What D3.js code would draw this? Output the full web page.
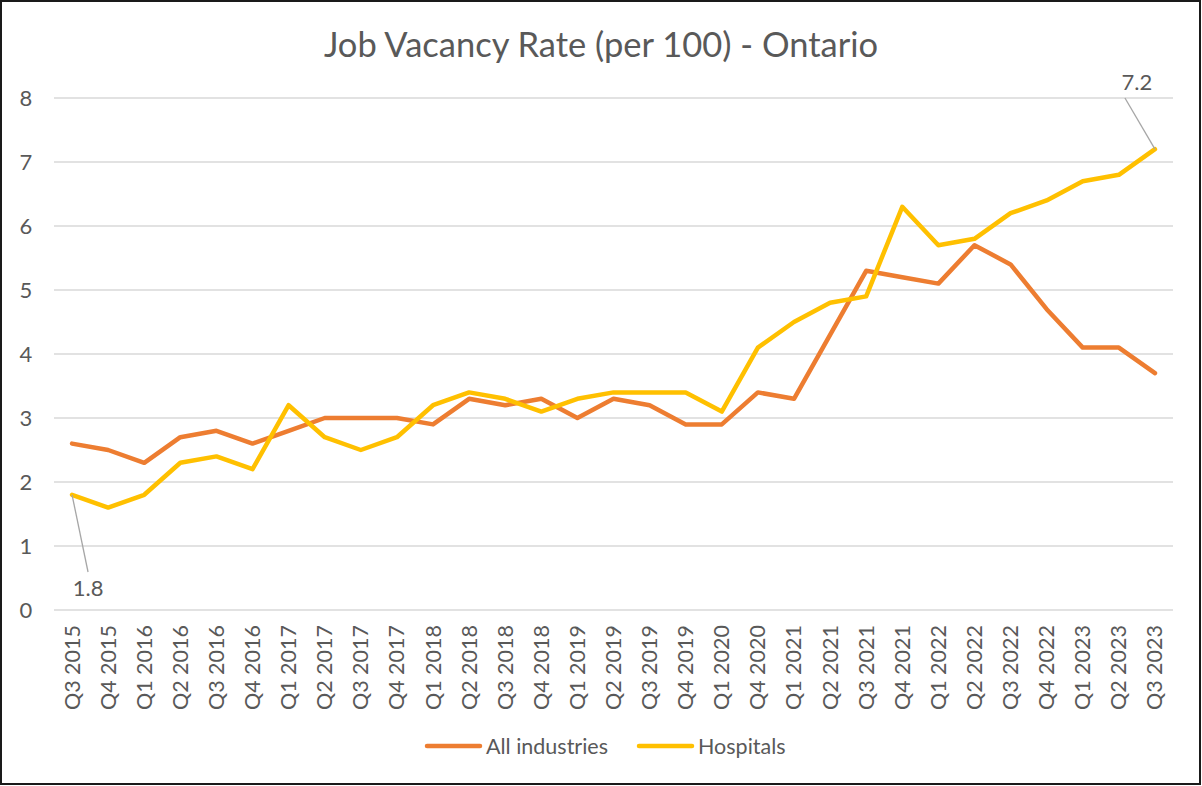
<!DOCTYPE html>
<html>
<head>
<meta charset="utf-8">
<script src="https://cdnjs.cloudflare.com/ajax/libs/d3/7.8.5/d3.min.js"></script>
<style>
	body { margin: 0; background: #fff; }
	svg text { font-family: Lato, "Open Sans", sans-serif; fill: #595959; }
</style>
</head>
<body>
<svg id="chart" width="1202" height="786"></svg>
<script>
var quarters = ['Q3 2015','Q4 2015','Q1 2016','Q2 2016','Q3 2016','Q4 2016','Q1 2017','Q2 2017','Q3 2017','Q4 2017',
	'Q1 2018','Q2 2018','Q3 2018','Q4 2018','Q1 2019','Q2 2019','Q3 2019','Q4 2019','Q1 2020','Q4 2020',
	'Q1 2021','Q2 2021','Q3 2021','Q4 2021','Q1 2022','Q2 2022','Q3 2022','Q4 2022','Q1 2023','Q2 2023','Q3 2023'];
var allIndustries = [2.6,2.5,2.3,2.7,2.8,2.6,2.8,3.0,3.0,3.0,2.9,3.3,3.2,3.3,3.0,3.3,3.2,2.9,2.9,3.4,3.3,4.3,5.3,5.2,5.1,5.7,5.4,4.7,4.1,4.1,3.7];
var hospitals = [1.8,1.6,1.8,2.3,2.4,2.2,3.2,2.7,2.5,2.7,3.2,3.4,3.3,3.1,3.3,3.4,3.4,3.4,3.1,4.1,4.5,4.8,4.9,6.3,5.7,5.8,6.2,6.4,6.7,6.8,7.2];
var yTicks = [0,1,2,3,4,5,6,7,8];

var svg = d3.select('#chart');

// outer border
svg.append('rect').attr('x', 1).attr('y', 1).attr('width', 1199).attr('height', 783)
	.attr('fill', '#fff').attr('stroke', '#1a1a1a').attr('stroke-width', 2);

svg.append('text').attr('x', 601).attr('y', 57).attr('text-anchor', 'middle')
	.style('font-size', '34.5px').text('Job Vacancy Rate (per 100) - Ontario');

var x = d3.scaleBand().domain(quarters).range([54, 1173]);
var y = d3.scaleLinear().domain([0, 8]).range([610, 98]);
var cx = function (i) { return x(quarters[i]) + x.bandwidth() / 2; };

// gridlines
svg.append('g').selectAll('line').data(yTicks).enter().append('line')
	.attr('x1', 54).attr('x2', 1173)
	.attr('y1', function (d) { return y(d); }).attr('y2', function (d) { return y(d); })
	.attr('stroke', '#d9d9d9').attr('stroke-width', 1.3);

// y labels
svg.append('g').selectAll('text').data(yTicks).enter().append('text')
	.attr('x', 26).attr('y', function (d) { return y(d) + 8; })
	.attr('text-anchor', 'middle').style('font-size', '22px').text(function (d) { return d; });

// x labels, rotated
svg.append('g').selectAll('text').data(quarters).enter().append('text')
	.attr('transform', function (d, i) { return 'translate(' + (cx(i) + 7.5) + ',625) rotate(-90)'; })
	.attr('text-anchor', 'end').style('font-size', '21.5px').text(function (d) { return d; });

var line = d3.line().x(function (d, i) { return cx(i); }).y(function (d) { return y(d); });

svg.append('path').datum(allIndustries).attr('d', line).attr('fill', 'none')
	.attr('stroke', '#ED7D31').attr('stroke-width', 4.5).attr('stroke-linejoin', 'round').attr('stroke-linecap', 'round');
svg.append('path').datum(hospitals).attr('d', line).attr('fill', 'none')
	.attr('stroke', '#FFC000').attr('stroke-width', 4.5).attr('stroke-linejoin', 'round').attr('stroke-linecap', 'round');

// data labels with leader lines
var first = 0, last = hospitals.length - 1;
svg.append('line').attr('x1', cx(first)).attr('y1', y(hospitals[first]))
	.attr('x2', cx(first) + 16).attr('y2', 572).attr('stroke', '#a6a6a6').attr('stroke-width', 1.3);
svg.append('text').attr('x', cx(first) + 16).attr('y', 596).attr('text-anchor', 'middle')
	.style('font-size', '22px').text(hospitals[first]);
svg.append('line').attr('x1', cx(last)).attr('y1', y(hospitals[last]))
	.attr('x2', cx(last) - 30).attr('y2', 98).attr('stroke', '#a6a6a6').attr('stroke-width', 1.3);
svg.append('text').attr('x', cx(last) - 18).attr('y', 90).attr('text-anchor', 'middle')
	.style('font-size', '22px').text(hospitals[last]);

// legend
var legend = [{name: 'All industries', color: '#ED7D31', x: 425}, {name: 'Hospitals', color: '#FFC000', x: 637}];
var lg = svg.append('g').selectAll('g').data(legend).enter().append('g')
	.attr('transform', function (d) { return 'translate(' + d.x + ',746)'; });
lg.append('line').attr('x1', 2).attr('x2', 55).attr('stroke', function (d) { return d.color; })
	.attr('stroke-width', 4.5).attr('stroke-linecap', 'round');
lg.append('text').attr('x', 61).attr('y', 8).style('font-size', '21.5px').text(function (d) { return d.name; });
</script>
</body>
</html>
